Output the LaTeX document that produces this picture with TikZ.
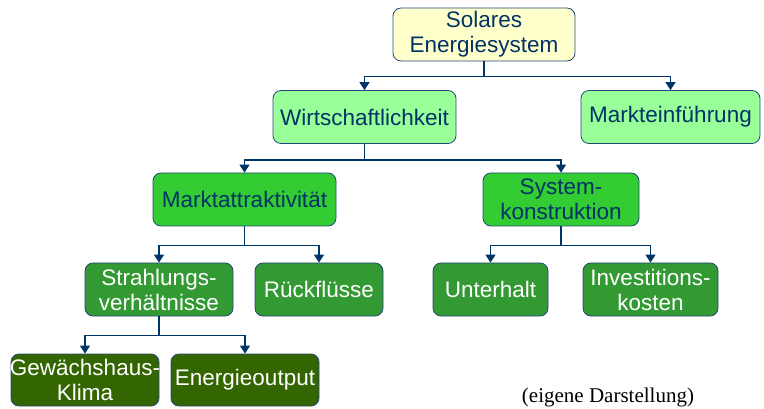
\documentclass[tikz,border=0pt]{standalone}
\usepackage{fontspec}
\setmainfont{Liberation Serif}
\newfontfamily\boxfont{Liberation Sans}
\usetikzlibrary{arrows.meta}
\definecolor{Paper}{HTML}{FFFFCC}
\definecolor{Mint}{HTML}{99FF99}
\definecolor{Leaf}{HTML}{33CC33}
\definecolor{Moss}{HTML}{339933}
\definecolor{Forest}{HTML}{336600}
\definecolor{Navy}{HTML}{003366}
\definecolor{Edge}{HTML}{23497A}

% text that may stick out of its box
\newcommand{\wideline}[1]{\makebox[0pt]{#1}}

\begin{document}
\begin{tikzpicture}[x=1pt, y=-1pt,
    box/.style={draw=Edge, line width=0.8pt, rounded corners=8pt, inner sep=0pt,
      align=center, font=\boxfont\fontsize{22.5}{25}\selectfont, text=Navy,
      minimum height=53pt},
    light/.style={text=white},
    conn/.style={Navy, line width=1.3pt, -{Triangle[length=8pt,width=10pt]}}]

  \useasboundingbox (0,0) rectangle (764,409);

  % -------------------------------------------------------
  % Level 0: root
  % -------------------------------------------------------
  \node[box, fill=Paper, minimum width=182pt] (root) at (484,34.5)
    {Solares\\Energiesystem};

  % -------------------------------------------------------
  % Level 1
  % -------------------------------------------------------
  \node[box, fill=Mint, minimum width=183pt] (wirt) at (364.5,117)
    {Wirtschaftlichkeit};
  \node[box, fill=Mint, minimum width=179pt] (einf) at (670.5,117)
    {Markteinführung};

  % -------------------------------------------------------
  % Level 2
  % -------------------------------------------------------
  \node[box, fill=Leaf, minimum width=183pt] (attr) at (244.5,199.5)
    {Marktattraktivität};
  \node[box, fill=Leaf, minimum width=156pt] (kons) at (561,199.5)
    {System-\\konstruktion};

  % -------------------------------------------------------
  % Level 3
  % -------------------------------------------------------
  \node[box, light, fill=Moss, minimum width=148pt] (strahl) at (159,289.5)
    {Strahlungs-\\verhältnisse};
  \node[box, light, fill=Moss, minimum width=128pt] (rueck) at (319,289.5)
    {Rückflüsse};
  \node[box, light, fill=Moss, minimum width=115pt] (unter) at (490.5,289.5)
    {Unterhalt};
  \node[box, light, fill=Moss, minimum width=135pt] (invest) at (650.5,289.5)
    {Investitions-\\kosten};

  % -------------------------------------------------------
  % Level 4
  % -------------------------------------------------------
  \node[box, light, fill=Forest, minimum width=148pt, minimum height=52pt] (treib) at (85,380)
    {\wideline{Gewächshaus-}\\\wideline{Klima}};
  \node[box, light, fill=Forest, minimum width=148pt, minimum height=52pt] (output) at (245,380)
    {\wideline{Energieoutput}};

  % Connectors
  \draw[conn] (root.south) -- ++(0,15) -| (wirt.north);
  \draw[conn] (root.south) -- ++(0,15) -| (einf.north);
  \draw[conn] (wirt.south) -- ++(0,16) -| (attr.north);
  \draw[conn] (wirt.south) -- ++(0,16) -| (kons.north);
  \draw[conn] (attr.south) -- ++(0,19) -| (strahl.north);
  \draw[conn] (attr.south) -- ++(0,19) -| (rueck.north);
  \draw[conn] (kons.south) -- ++(0,19) -| (unter.north);
  \draw[conn] (kons.south) -- ++(0,19) -| (invest.north);
  \draw[conn] (strahl.south) -- ++(0,19) -| (treib.north);
  \draw[conn] (strahl.south) -- ++(0,19) -| (output.north);

  % Source note
  \node[font=\fontsize{21}{24}\selectfont, inner sep=0pt] (quelle) at (608,397)
    {(eigene Darstellung)};

\end{tikzpicture}
\end{document}
